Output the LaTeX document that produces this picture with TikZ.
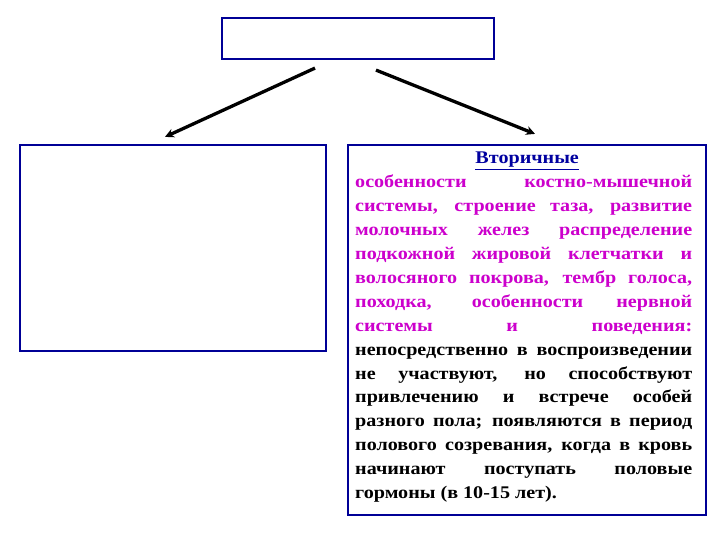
\documentclass[tikz,border=0pt]{standalone}
\usepackage{fontspec}
\setmainfont{Liberation Serif}[FakeStretch=1.13]
\usetikzlibrary{arrows.meta,calc}
\definecolor{boxblue}{RGB}{0,0,150}
\definecolor{mag}{RGB}{204,0,204}
\definecolor{tblue}{RGB}{0,0,160}
\newcommand{\jl}[1]{\makebox[\linewidth][s]{#1}\par}
\begin{document}
\begin{tikzpicture}[x=1pt,y=-1pt,
  boxst/.style={draw=boxblue,line width=2.2pt,fill=white,rectangle,inner sep=0pt},
  arr/.style={line width=3.3pt,-{Stealth[length=9pt,width=9pt]}}]
\useasboundingbox[fill=white] (0,0) rectangle (720,540);
\node[boxst,minimum width=272pt,minimum height=41pt] (top) at (358,38.5) {};
\node[boxst,minimum width=306pt,minimum height=206pt] (lbox) at (173,248) {};
\node[boxst,minimum width=358pt,minimum height=370pt] (rbox) at (527,330) {};
\draw[arr] ($(top.south)+(-43,8)$) -- ($(lbox.north)+(-8,-7)$);
\draw[arr] ($(top.south)+(18,10)$) -- ($(rbox.north)+(8,-10)$);
\node[inner sep=0pt,anchor=base west] (txt) at (355,164) {\parbox[t]{337pt}{\fontsize{17.8pt}{23.9pt}\selectfont\bfseries
\makebox[\linewidth][c]{\hspace*{7pt}\color{tblue}\underline{Вторичные}}\par
\color{mag}%
\jl{особенности костно-мышечной}
\jl{системы, строение таза, развитие}
\jl{молочных желез распределение}
\jl{подкожной жировой клетчатки и}
\jl{волосяного покрова, тембр голоса,}
\jl{походка, особенности нервной}
\jl{системы и поведения:}
\color{black}%
\jl{непосредственно в воспроизведении}
\jl{не участвуют, но способствуют}
\jl{привлечению и встрече особей}
\jl{разного пола; появляются в период}
\jl{полового созревания, когда в кровь}
\jl{начинают поступать половые}
\makebox[\linewidth][l]{гормоны (в 10-15 лет).}\par}};
\end{tikzpicture}
\end{document}
